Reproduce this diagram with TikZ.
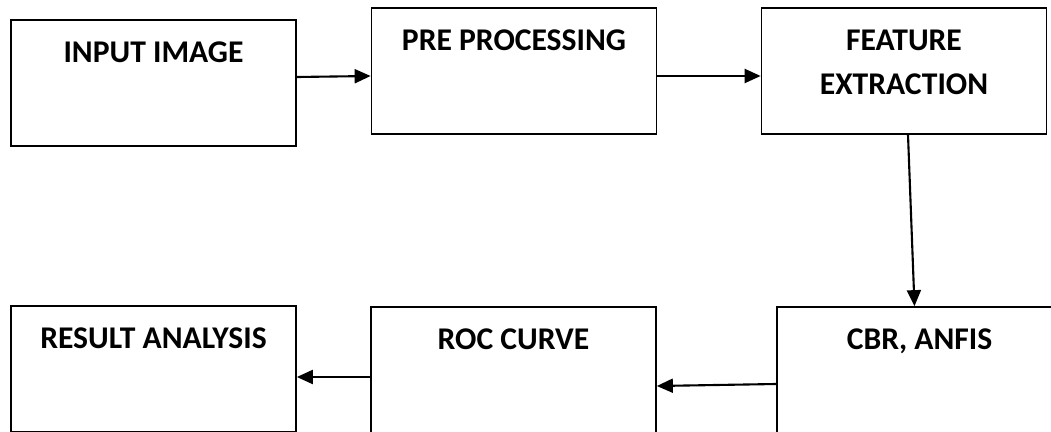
\documentclass[tikz,border=0pt]{standalone}
\usepackage{fontspec}
\setmainfont{Carlito}
\usetikzlibrary{arrows.meta,positioning}
\definecolor{textcolor}{HTML}{000000}
\definecolor{edgecolor}{HTML}{000000}
\tikzset{
  stage/.style={draw=edgecolor, line width=1pt, fill=white, align=center, text=textcolor,
    font=\fontsize{18}{25.5}\selectfont\bfseries, minimum width=5.7cm, inner xsep=0pt, inner ysep=0pt,
    text height=0.84cm, text depth=1.68cm},
  stagetwo/.style={stage, text height=1.74cm, text depth=0.78cm},
  edge/.style={-{Triangle[length=0.32cm,width=0.28cm]}, draw=edgecolor, line width=1.2pt},
}
\begin{document}
\begin{tikzpicture}[x=0.02cm,y=-0.02cm]
  \useasboundingbox (0,0) rectangle (1051,432);
  \clip (0,0) rectangle (1051,432);

  \node[stage] (input) at (153.5,83) {INPUT IMAGE};
  \node[stage] (prep) at (514,71) {PRE PROCESSING};
  \node[stagetwo] (feat) at (904,71) {FEATURE\\ EXTRACTION};

  \node[stage] (cbr) at (919.5,370) {CBR, ANFIS};
  \node[stage] (roc) at (513.5,370) {ROC CURVE};
  \node[stage] (result) at (153.5,369) {RESULT ANALYSIS};

  \draw[edge] ([yshift=0.12cm]input.east) -- ([yshift=-0.1cm]prep.west);
  \draw[edge] ([yshift=-0.1cm]prep.east) -- ([yshift=-0.1cm]feat.west);
  \draw[edge] ([xshift=0.08cm]feat.south) -- ([xshift=-0.1cm]cbr.north);
  \draw[edge] ([yshift=-0.28cm]cbr.west) -- ([yshift=-0.32cm]roc.east);
  \draw[edge] ([yshift=-0.14cm]roc.west) -- ([yshift=-0.16cm]result.east);
\end{tikzpicture}
\end{document}
